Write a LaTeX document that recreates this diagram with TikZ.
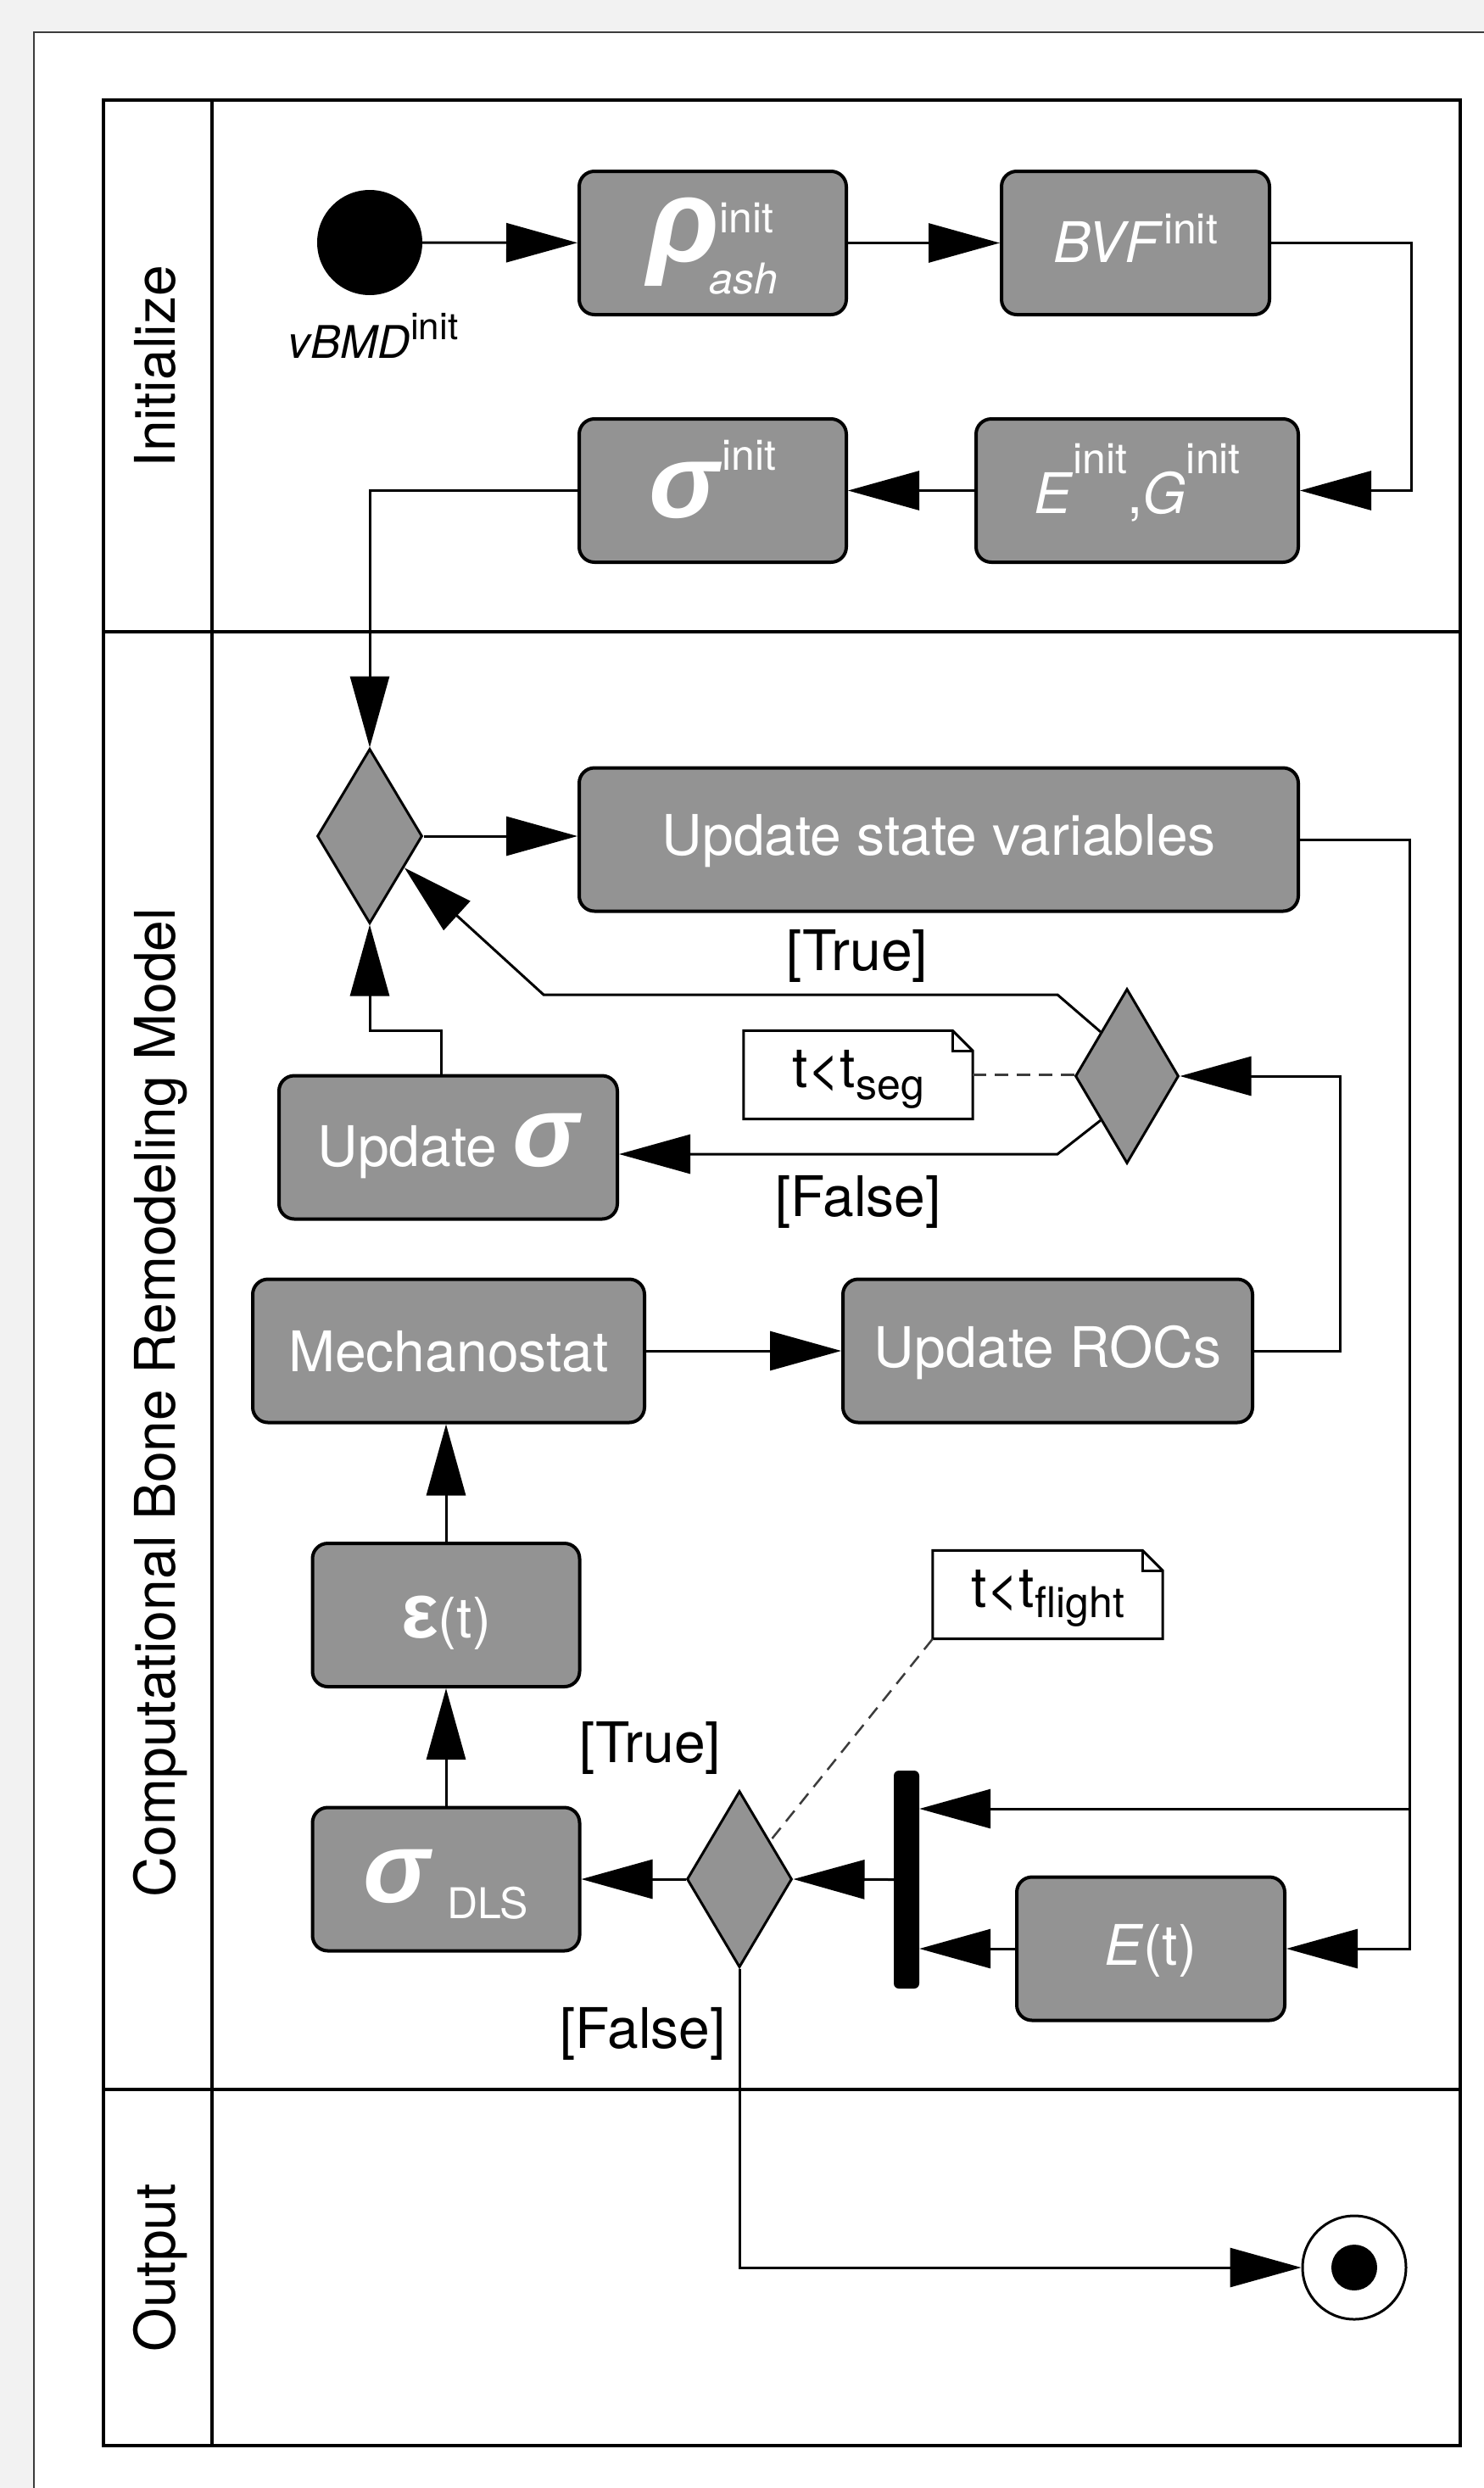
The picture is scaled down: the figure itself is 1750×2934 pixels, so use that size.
\documentclass[tikz,border=0pt]{standalone}
\usepackage{fontspec}
\setmainfont{TeX Gyre Heros}
\newfontfamily\grk{Liberation Sans}
\usetikzlibrary{arrows.meta,shapes.geometric}

\definecolor{pagegray}{RGB}{242,242,242}
\definecolor{actgray}{RGB}{147,147,147}
\definecolor{framegray}{RGB}{60,60,60}

% font size helper (size = baselineskip)
\newcommand{\fs}[1]{\fontsize{#1}{#1}\selectfont}
% large bold italic Greek symbol
\newcommand{\bigsym}[2][118]{{\grk\bfseries\itshape\fs{#1}#2}}
% raised (or lowered) small text
\newcommand{\hi}[2]{\raisebox{#1}{\fs{50}#2}}
% note with a folded corner
\newcommand{\drawnote}[1]{%
  \draw[noteline] (#1.north west) -- ([xshift=-24pt]#1.north east)
     -- ([yshift=-24pt]#1.north east) -- (#1.south east) -- (#1.south west) -- cycle;
  \draw[noteline] ([xshift=-24pt]#1.north east) |- ([yshift=-24pt]#1.north east);}

\begin{document}
\begin{tikzpicture}[x=1pt,y=-1pt,
  act/.style={draw=black, line width=4pt, fill=actgray, rounded corners=18pt,
    minimum height=169pt, inner sep=0pt, text=white, font=\fs{66}},
  dec/.style={diamond, draw=black, line width=3pt, fill=actgray,
    minimum width=124pt, minimum height=206pt, inner sep=0pt},
  flow/.style={line width=3pt, -{Triangle[length=84pt,width=46pt]}},
  anchorline/.style={line width=2.5pt, draw=framegray, dash pattern=on 16pt off 10pt},
  note/.style={fill=white, minimum height=104pt, inner sep=0pt, font=\fs{66},
    text height=55pt, text depth=25pt},
  noteline/.style={line width=3pt, line join=miter},
  guard/.style={font=\fs{66}, inner sep=0pt},
  lanename/.style={font=\fs{66}, rotate=90, anchor=base, inner sep=0pt},
  lane/.style={line width=4pt},
]
\useasboundingbox (0,0) rectangle (1750,2934);
\fill[pagegray] (0,0) rectangle (1750,2934);
\fill[white] (40,38) rectangle (1750,2934);
\draw[framegray, line width=2pt] (40,2934) -- (40,38) -- (1750,38);

% swimlanes
\draw[lane] (122,118) rectangle (1722,2884);
\draw[lane] (122,745) -- (1722,745);
\draw[lane] (122,2464) -- (1722,2464);
\draw[lane] (250,118) -- (250,2884);
\node[lanename] (laneInit) at (206,432) {Initialize};
\node[lanename] (laneModel) at (206,1654) {Computational Bone Remodeling Model};
\node[lanename] (laneOut) at (206,2674) {Output};

% initialization
\node[circle, fill=black, minimum size=124pt, inner sep=0pt] (start) at (436,286) {};
\node[anchor=base, inner sep=0pt, font=\fs{53}] (vbmd) at (440,422)
  {\textit{vBMD}\raisebox{22pt}{\fs{44}init}};
\node[act, minimum width=315pt, text height=61.5pt, text depth=18.5pt] (rho) at (840.5,286.5)
  {\bigsym[140]{ρ}\rlap{\hi{34pt}{init}}\hspace{-12pt}\hi{-38pt}{\itshape ash}};
\node[act, minimum width=316pt, text height=62.5pt, text depth=17.5pt] (bvf) at (1339,286.5)
  {\textit{BVF}\hi{22pt}{init}};
\node[act, minimum width=380pt, text height=67pt, text depth=13pt] (eg) at (1341,578.5)
  {\textit{E}\hi{47pt}{init},\textit{G}\hi{47pt}{init}};
\node[act, minimum width=315pt, text height=72pt, text depth=8pt] (siginit) at (840.5,578.5)
  {\bigsym[124]{σ}\hspace{4pt}\hi{56pt}{init}};

% remodeling loop
\node[dec] (d1) at (436,986) {};
\node[act, minimum width=848pt, text height=58pt, text depth=22pt] (usv) at (1107,990)
  {Update state variables};
\node[dec, minimum width=122pt] (d2) at (1329,1269) {};
\node[note, minimum width=270pt] (n1) at (1012,1267.5) {t<t\hi{-14pt}{seg}};
\drawnote{n1}
\node[act, minimum width=399pt, text height=62pt, text depth=18pt] (upds) at (528.5,1353)
  {Update \bigsym{σ}};
\node[act, minimum width=462pt, text height=64.5pt, text depth=15.5pt] (mech) at (529,1593)
  {Mechanostat};
\node[act, minimum width=483pt, text height=59pt, text depth=21pt] (rocs) at (1235.5,1593)
  {Update ROCs};
\node[act, minimum width=315pt, text height=66.5pt, text depth=13.5pt] (eps) at (526,1904.5)
  {{\grk\bfseries\fs{92}ε}(t)};
\node[act, minimum width=315pt, text height=67pt, text depth=13pt] (sdls) at (526,2216)
  {\bigsym{σ}\hspace{20pt}\hi{-19pt}{DLS}};
\node[dec, minimum height=208pt] (d3) at (872,2216) {};
\node[fill=black, rounded corners=6pt, minimum width=30pt, minimum height=257pt,
  inner sep=0pt] (bar) at (1069,2216.5) {};
\node[act, minimum width=316pt, text height=59pt, text depth=21pt] (Et) at (1357,2298)
  {\textit{E}(t)};
\node[note, minimum width=271pt] (n2) at (1235.5,1880.5) {t<t\hi{-12pt}{flight}};
\drawnote{n2}

% output
\node[circle, draw=black, line width=3pt, fill=white, minimum size=122pt, inner sep=0pt]
  (fin) at (1597,2674) {};
\node[circle, fill=black, minimum size=54pt, inner sep=0pt] (finDot) at (fin) {};

% guards
\node[guard] (g1) at (1011,1127) {[True]};
\node[guard] (g2) at (1012,1417) {[False]};
\node[guard] (g3) at (767,2061) {[True]};
\node[guard] (g4) at (758,2398) {[False]};

% bend points
\coordinate (rail) at (1662,2133);
\coordinate (tA) at (1247,1173);
\coordinate (tB) at (641,1173);
\coordinate (fA) at (1247,1361);
\coordinate (uA) at (520,1215);

% control flow
\draw[flow] (start) -- (rho);
\draw[flow] (rho) -- (bvf);
\draw[flow] (bvf.east) -- ++(165,0) |- (eg.east);
\draw[flow] (eg) -- (siginit);
\draw[flow] (siginit.west) -| (d1.north);
\draw[flow] (d1.east) -- (d1.east -| usv.west);
\draw[flow] (usv.east) -| (rail) |- (Et.east);
\draw[flow] (rail) -- (rail -| bar.east);
\draw[flow] (Et.west) -- (Et.west -| bar.east);
\draw[flow] (bar.west) -- (d3.east);
\draw[flow] (d3.west) -- (sdls.east);
\draw[flow] (sdls.north) -- (eps.south);
\draw[flow] (eps.north) -- (eps.north |- mech.south);
\draw[flow] (mech.east) -- (rocs.west);
\draw[flow] (rocs.east) -- ++(101,0) |- (d2.east);
\draw[flow] (d2.north west) -- (tA) -- (tB) -- (d1);
\draw[flow] (d2.south west) -- (fA) -- (fA -| upds.east);
\draw[flow] (upds.north -| uA) -- (uA) -| (d1.south);
\draw[flow] (d3.south) |- (fin);

% note anchors
\draw[anchorline] (n1.east) -- (n1.east -| d2.west);
\draw[anchorline] (n2.south west) -- (d3);
\end{tikzpicture}
\end{document}
